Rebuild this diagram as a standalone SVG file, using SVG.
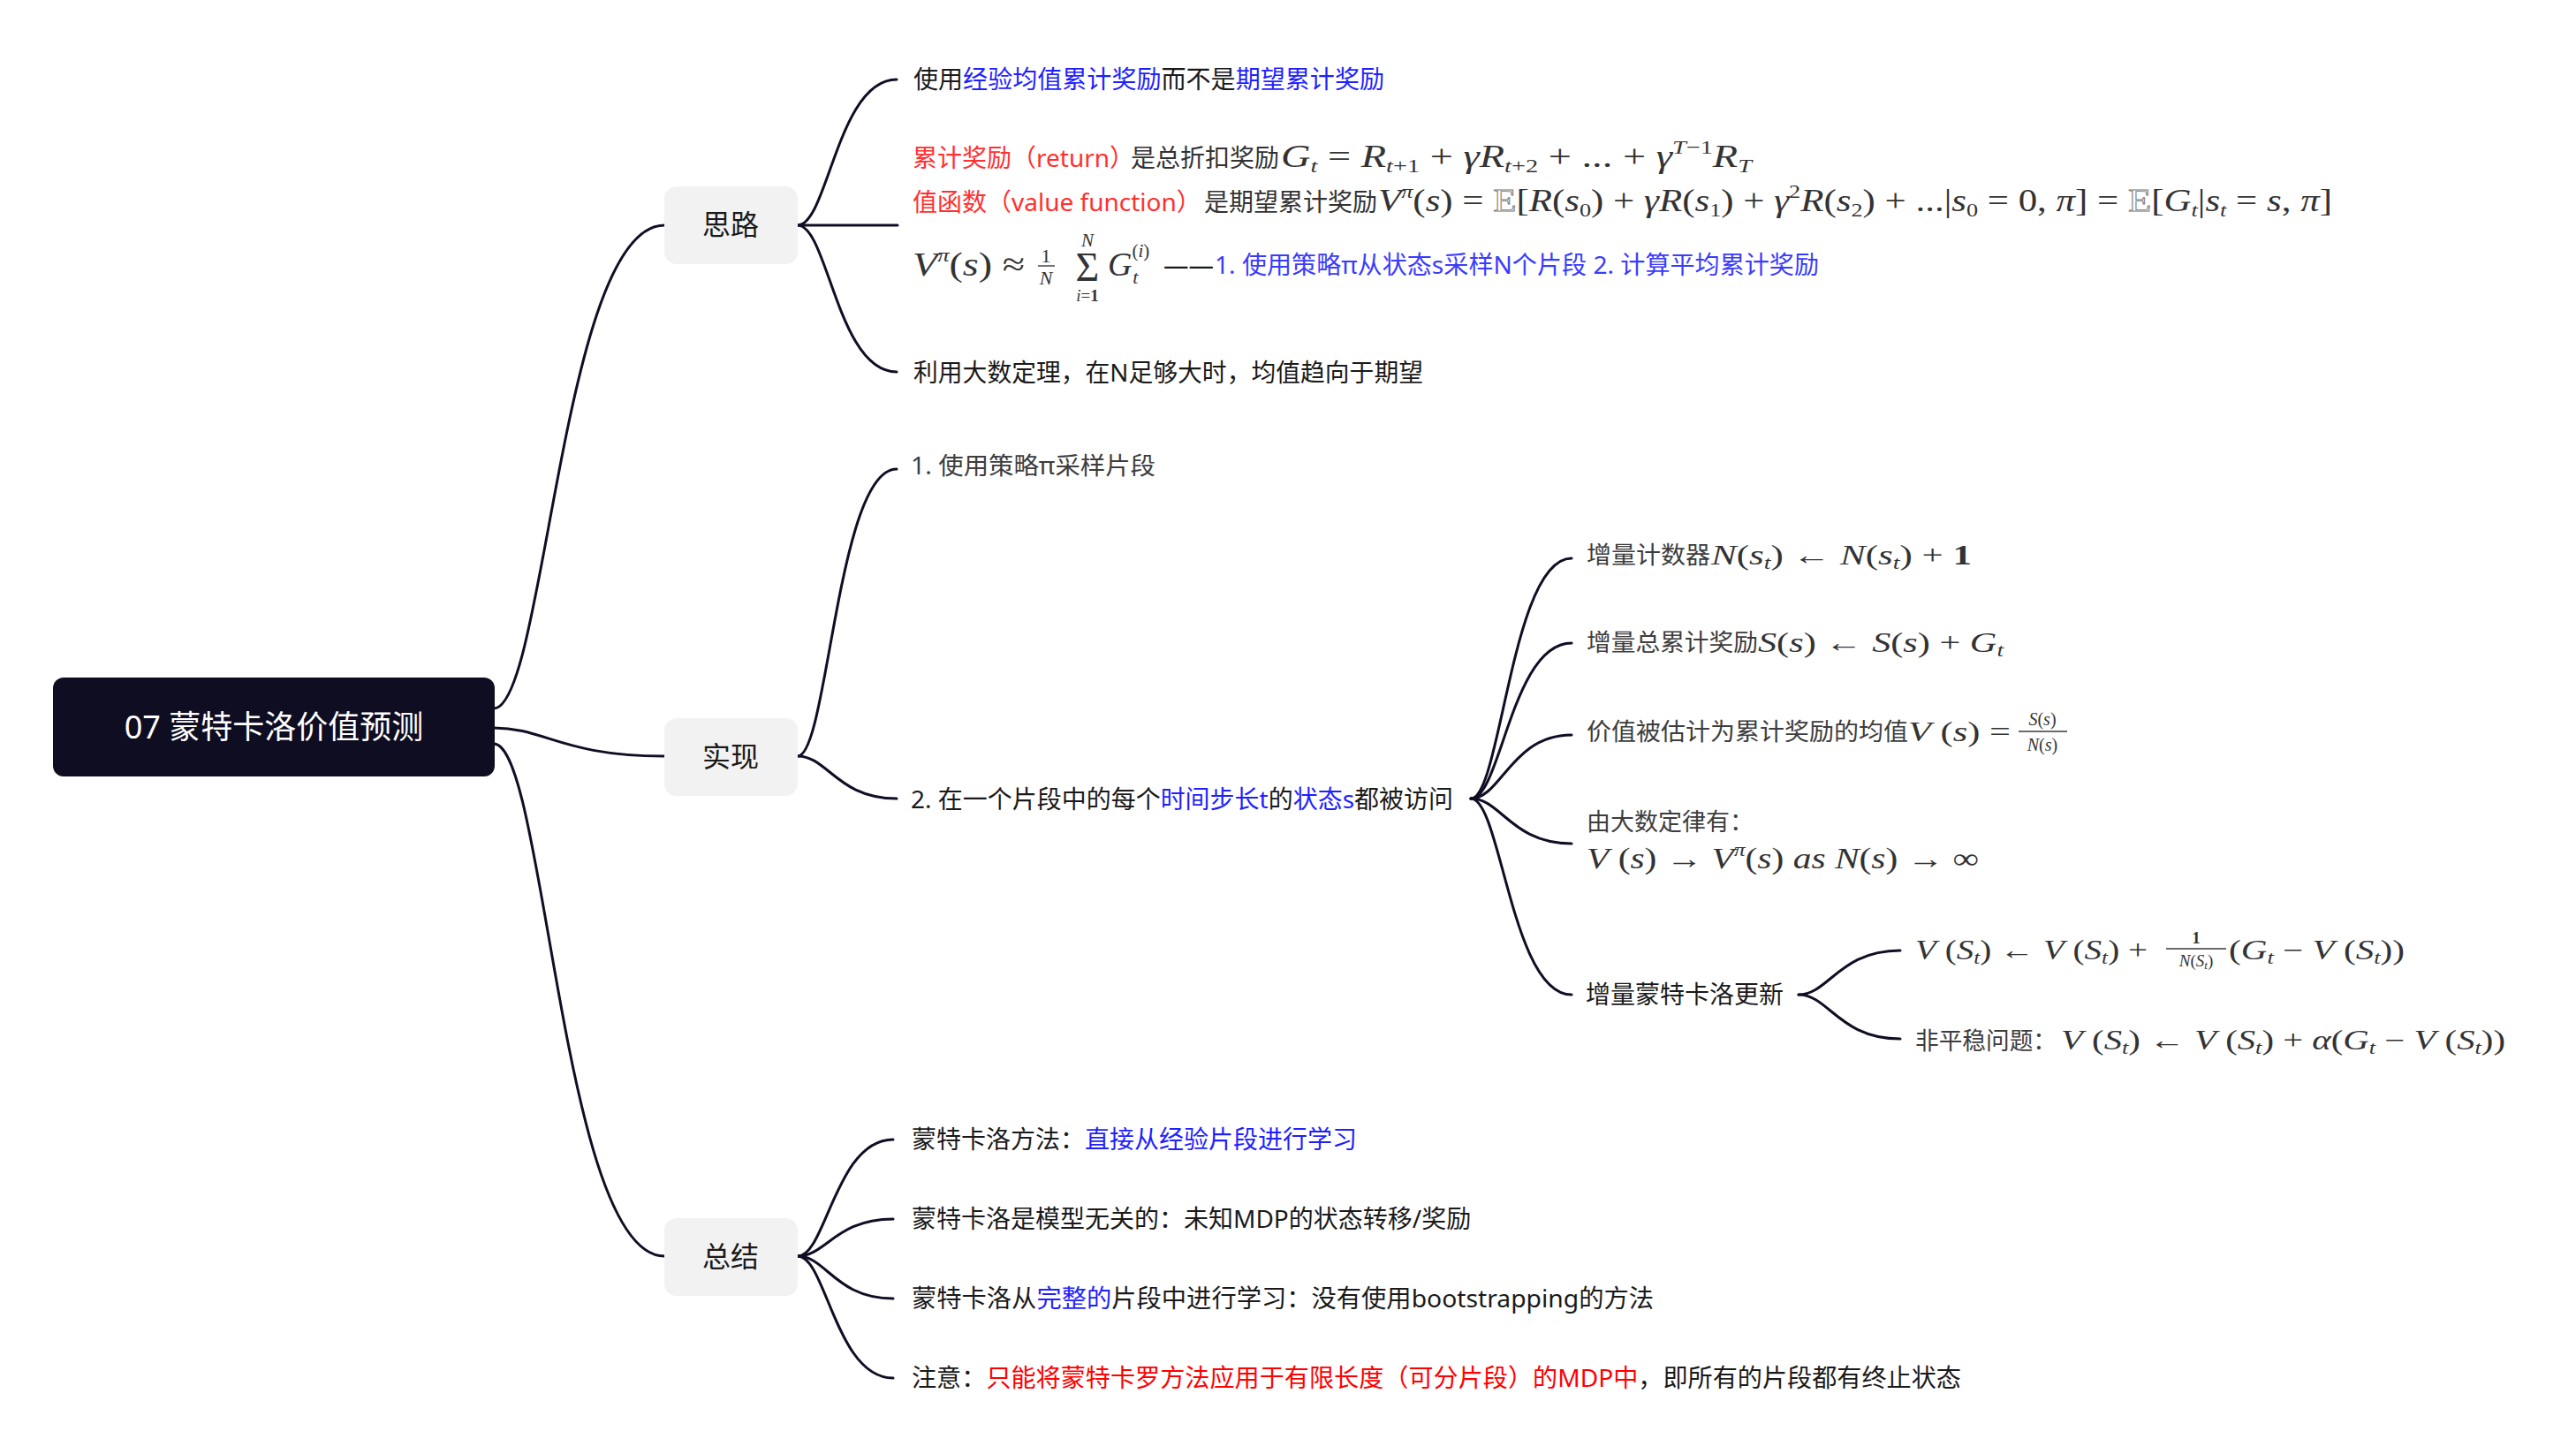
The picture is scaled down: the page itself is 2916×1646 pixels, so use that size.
<svg xmlns="http://www.w3.org/2000/svg" width="2916" height="1646" viewBox="0 0 2916 1646">
<style>
.t{font-family:"Noto Sans","Noto Sans CJK SC",sans-serif;font-size:28px;fill:#1a1a1a}
.g{font-family:"Noto Sans","Noto Sans CJK SC",sans-serif;font-size:27px;fill:#3d3d3d}
.m{font-family:"Liberation Serif","DejaVu Serif",serif;fill:#333;white-space:pre}
.i{font-style:italic}
.bb{fill:#fff;stroke:#777;stroke-width:0.9;font-style:normal}
.red{fill:#ff3030}
.blue{fill:#1f1fff}
.lblue{fill:#3b3bff}
.node{fill:#f2f2f2}
.nt{font-family:"Noto Sans","Noto Sans CJK SC",sans-serif;font-size:32px;fill:#1a1a1a;text-anchor:middle}
.c{fill:none;stroke:#100e24;stroke-width:3;stroke-linecap:round}
.bar{stroke:#3a3a3a;stroke-width:1.4}
</style>
<rect width="2916" height="1646" fill="#fff"/>
<g id="connectors">
<path class="c" d="M559,802 C617,802 636,255 752,255"/>
<path class="c" d="M559,824 C617,824 636,856 752,856"/>
<path class="c" d="M559,842 C617,842 636,1422 752,1422"/>
<path class="c" d="M903,255 C937,255 948,90 1015,90"/>
<path class="c" d="M903,255 L1016,255"/>
<path class="c" d="M903,255 C937,255 948,421 1015,421"/>
<path class="c" d="M903,856 C937,856 948,531 1015,531"/>
<path class="c" d="M903,856 C937,856 948,904 1015,904"/>
<path class="c" d="M1665,904 C1699,904 1711,632 1779,632"/>
<path class="c" d="M1665,904 C1699,904 1711,728 1779,728"/>
<path class="c" d="M1665,904 C1699,904 1711,832 1779,832"/>
<path class="c" d="M1665,904 C1699,904 1711,955 1779,955"/>
<path class="c" d="M1665,904 C1699,904 1711,1126 1779,1126"/>
<path class="c" d="M2036,1126 C2070,1126 2082,1076 2151,1076"/>
<path class="c" d="M2036,1126 C2070,1126 2082,1176 2151,1176"/>
<path class="c" d="M903,1422 C935,1422 946,1290 1011,1290"/>
<path class="c" d="M903,1422 C935,1422 946,1380 1011,1380"/>
<path class="c" d="M903,1422 C935,1422 946,1470 1011,1470"/>
<path class="c" d="M903,1422 C935,1422 946,1560 1011,1560"/>
</g>
<g id="root">
<rect x="60" y="767" width="500" height="112" rx="12" fill="#0f0d22"/>
<text x="310" y="836" font-family="Noto Sans, Noto Sans CJK SC, sans-serif" font-size="36" fill="#fff" text-anchor="middle">07 蒙特卡洛价值预测</text>
</g>
<g id="silu">
<rect class="node" x="752" y="211" width="151" height="88" rx="14"/>
<text class="nt" x="827" y="266">思路</text>
</g>
<g id="shixian">
<rect class="node" x="752" y="813" width="151" height="88" rx="14"/>
<text class="nt" x="827" y="868">实现</text>
</g>
<g id="zongjie">
<rect class="node" x="752" y="1379" width="151" height="88" rx="14"/>
<text class="nt" x="827" y="1434">总结</text>
</g>
<g id="silu-1">
<text class="t" x="1034" y="100" textLength="533" lengthAdjust="spacingAndGlyphs">使用<tspan class="blue">经验均值累计奖励</tspan>而不是<tspan class="blue">期望累计奖励</tspan></text>
</g>
<g id="silu-2">
<text class="t" x="1033" y="189"><tspan class="red">累计奖励（return）</tspan><tspan x="1280" fill="#333">是总折扣奖励</tspan></text>
<text class="m" x="1450" y="189" font-size="36" textLength="533" lengthAdjust="spacingAndGlyphs"><tspan class="i">G</tspan><tspan class="i" font-size="22" dy="6">t</tspan><tspan dy="-6"> = </tspan><tspan class="i">R</tspan><tspan font-size="22" dy="6"><tspan class="i">t</tspan>+1</tspan><tspan dy="-6"> + </tspan><tspan class="i">γR</tspan><tspan font-size="22" dy="6"><tspan class="i">t</tspan>+2</tspan><tspan dy="-6"> + ... + </tspan><tspan class="i">γ</tspan><tspan font-size="22" dy="-15"><tspan class="i">T</tspan>−1</tspan><tspan class="i" dy="15">R</tspan><tspan class="i" font-size="22" dy="6">T</tspan></text>
<text class="t" x="1033" y="239"><tspan class="red">值函数（value function）</tspan><tspan x="1363" fill="#333">是期望累计奖励</tspan></text>
<text class="m" x="1560" y="239" font-size="36" textLength="1080" lengthAdjust="spacingAndGlyphs"><tspan class="i">V</tspan><tspan class="i" font-size="22" dy="-15">π</tspan><tspan dy="15">(</tspan><tspan class="i">s</tspan>) = <tspan class="bb">E</tspan>[<tspan class="i">R</tspan>(<tspan class="i">s</tspan><tspan font-size="22" dy="6">0</tspan><tspan dy="-6">) + </tspan><tspan class="i">γR</tspan>(<tspan class="i">s</tspan><tspan font-size="22" dy="6">1</tspan><tspan dy="-6">) + </tspan><tspan class="i">γ</tspan><tspan font-size="22" dy="-15">2</tspan><tspan class="i" dy="15">R</tspan>(<tspan class="i">s</tspan><tspan font-size="22" dy="6">2</tspan><tspan dy="-6">) + ...|</tspan><tspan class="i">s</tspan><tspan font-size="22" dy="6">0</tspan><tspan dy="-6"> = 0, </tspan><tspan class="i">π</tspan>] = <tspan class="bb">E</tspan>[<tspan class="i">G</tspan><tspan class="i" font-size="22" dy="6">t</tspan><tspan dy="-6">|</tspan><tspan class="i">s</tspan><tspan class="i" font-size="22" dy="6">t</tspan><tspan dy="-6"> = </tspan><tspan class="i">s</tspan>, <tspan class="i">π</tspan>]</text>
<text class="m" x="1033" y="312" font-size="38" textLength="127" lengthAdjust="spacingAndGlyphs"><tspan class="i">V</tspan><tspan class="i" font-size="22" dy="-16">π</tspan><tspan dy="16">(</tspan><tspan class="i">s</tspan>) ≈</text>
<text class="m" x="1184" y="297" font-size="22" text-anchor="middle">1</text>
<line class="bar" x1="1175" y1="301" x2="1194" y2="301"/>
<text class="m i" x="1184" y="322" font-size="22" text-anchor="middle">N</text>
<text class="m i" x="1231" y="279" font-size="21" text-anchor="middle">N</text>
<text class="m" x="1231" y="318" font-size="46" text-anchor="middle">Σ</text>
<text class="m" x="1231" y="341" font-size="19" text-anchor="middle"><tspan class="i">i</tspan>=<tspan font-weight="bold">1</tspan></text>
<text class="m" x="1254" y="312" font-size="38"><tspan class="i">G</tspan><tspan font-size="21" dy="-21">(<tspan class="i">i</tspan>)</tspan><tspan class="i" font-size="22" dx="-19" dy="30">t</tspan></text>
<text class="t" x="1317" y="310" fill="#333" textLength="57" lengthAdjust="spacingAndGlyphs">——</text>
<text class="t lblue" x="1375" y="310" textLength="684" lengthAdjust="spacingAndGlyphs">1. 使用策略π从状态s采样N个片段 2. 计算平均累计奖励</text>
</g>
<g id="silu-3">
<text class="t" x="1034" y="432" textLength="577" lengthAdjust="spacingAndGlyphs">利用大数定理，在N足够大时，均值趋向于期望</text>
</g>
<g id="shixian-1">
<text class="g" x="1031" y="537" fill="#555" textLength="277" lengthAdjust="spacingAndGlyphs">1. 使用策略π采样片段</text>
</g>
<g id="shixian-2">
<text class="t" x="1031" y="915" textLength="614" lengthAdjust="spacingAndGlyphs">2. 在一个片段中的每个<tspan class="blue">时间步长t</tspan>的<tspan class="blue">状态s</tspan>都被访问</text>
</g>
<g id="step-counter">
<text class="g" x="1796" y="638" textLength="140" lengthAdjust="spacingAndGlyphs">增量计数器</text>
<text class="m" x="1937" y="639" font-size="31" textLength="295" lengthAdjust="spacingAndGlyphs"><tspan class="i">N</tspan>(<tspan class="i">s</tspan><tspan class="i" font-size="20" dy="5">t</tspan><tspan dy="-5">) ← </tspan><tspan class="i">N</tspan>(<tspan class="i">s</tspan><tspan class="i" font-size="20" dy="5">t</tspan><tspan dy="-5">) + </tspan><tspan font-weight="bold">1</tspan></text>
</g>
<g id="step-sum">
<text class="g" x="1796" y="737" textLength="194" lengthAdjust="spacingAndGlyphs">增量总累计奖励</text>
<text class="m" x="1990" y="738" font-size="31" textLength="278" lengthAdjust="spacingAndGlyphs"><tspan class="i">S</tspan>(<tspan class="i">s</tspan>) ← <tspan class="i">S</tspan>(<tspan class="i">s</tspan>) + <tspan class="i">G</tspan><tspan class="i" font-size="20" dy="5">t</tspan></text>
</g>
<g id="step-mean">
<text class="g" x="1796" y="838" textLength="364" lengthAdjust="spacingAndGlyphs">价值被估计为累计奖励的均值</text>
<text class="m" x="2160" y="839" font-size="31" textLength="116" lengthAdjust="spacingAndGlyphs"><tspan class="i">V</tspan> (<tspan class="i">s</tspan>) =</text>
<text class="m" x="2312" y="821" font-size="20" text-anchor="middle"><tspan class="i">S</tspan>(<tspan class="i">s</tspan>)</text>
<line class="bar" x1="2285" y1="828" x2="2340" y2="828"/>
<text class="m" x="2312" y="850" font-size="20" text-anchor="middle"><tspan class="i">N</tspan>(<tspan class="i">s</tspan>)</text>
</g>
<g id="step-law">
<text class="g" x="1796" y="940">由大数定律有：</text>
<text class="m" x="1796" y="983" font-size="33" textLength="444" lengthAdjust="spacingAndGlyphs"><tspan class="i">V</tspan> (<tspan class="i">s</tspan>) → <tspan class="i">V</tspan><tspan class="i" font-size="20" dy="-14">π</tspan><tspan dy="14">(</tspan><tspan class="i">s</tspan>) <tspan class="i">as N</tspan>(<tspan class="i">s</tspan>) → ∞</text>
</g>
<g id="step-incremental">
<text class="t" x="1795" y="1136">增量蒙特卡洛更新</text>
</g>
<g id="inc-1">
<text class="m" x="2168" y="1086" font-size="31" textLength="263" lengthAdjust="spacingAndGlyphs"><tspan class="i">V</tspan> (<tspan class="i">S</tspan><tspan class="i" font-size="20" dy="5">t</tspan><tspan dy="-5">) ← </tspan><tspan class="i">V</tspan> (<tspan class="i">S</tspan><tspan class="i" font-size="20" dy="5">t</tspan><tspan dy="-5">) +</tspan></text>
<text class="m" x="2486" y="1068" font-size="19" font-weight="bold" text-anchor="middle">1</text>
<line class="bar" x1="2452" y1="1074" x2="2520" y2="1074"/>
<text class="m" x="2486" y="1094" font-size="19" text-anchor="middle"><tspan class="i">N</tspan>(<tspan class="i">S</tspan><tspan class="i" font-size="13" dy="3">t</tspan><tspan dy="-3">)</tspan></text>
<text class="m" x="2523" y="1086" font-size="31" textLength="199" lengthAdjust="spacingAndGlyphs">(<tspan class="i">G</tspan><tspan class="i" font-size="20" dy="5">t</tspan><tspan dy="-5"> − </tspan><tspan class="i">V</tspan> (<tspan class="i">S</tspan><tspan class="i" font-size="20" dy="5">t</tspan><tspan dy="-5">))</tspan></text>
</g>
<g id="inc-2">
<text class="g" x="2168" y="1188" textLength="160" lengthAdjust="spacingAndGlyphs">非平稳问题：</text>
<text class="m" x="2333" y="1188" font-size="31" textLength="503" lengthAdjust="spacingAndGlyphs"><tspan class="i">V</tspan> (<tspan class="i">S</tspan><tspan class="i" font-size="20" dy="5">t</tspan><tspan dy="-5">) ← </tspan><tspan class="i">V</tspan> (<tspan class="i">S</tspan><tspan class="i" font-size="20" dy="5">t</tspan><tspan dy="-5">) + </tspan><tspan class="i">α</tspan>(<tspan class="i">G</tspan><tspan class="i" font-size="20" dy="5">t</tspan><tspan dy="-5"> − </tspan><tspan class="i">V</tspan> (<tspan class="i">S</tspan><tspan class="i" font-size="20" dy="5">t</tspan><tspan dy="-5">))</tspan></text>
</g>
<g id="zongjie-1">
<text class="t" x="1032" y="1300">蒙特卡洛方法：<tspan class="blue">直接从经验片段进行学习</tspan></text>
</g>
<g id="zongjie-2">
<text class="t" x="1032" y="1390">蒙特卡洛是模型无关的：未知MDP的状态转移/奖励</text>
</g>
<g id="zongjie-3">
<text class="t" x="1032" y="1480" textLength="840" lengthAdjust="spacingAndGlyphs">蒙特卡洛从<tspan class="blue">完整的</tspan>片段中进行学习：没有使用bootstrapping的方法</text>
</g>
<g id="zongjie-4">
<text class="t" x="1032" y="1570" textLength="1188" lengthAdjust="spacingAndGlyphs">注意：<tspan fill="#ff0000">只能将蒙特卡罗方法应用于有限长度（可分片段）的MDP中</tspan>，即所有的片段都有终止状态</text>
</g>
</svg>
